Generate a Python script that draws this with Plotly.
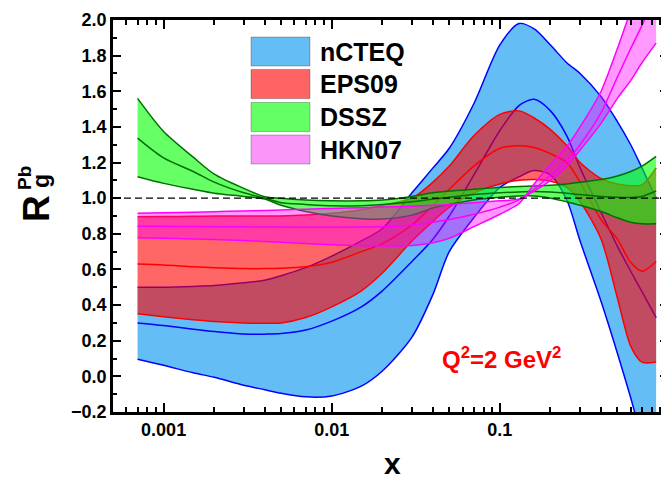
import plotly.graph_objects as go

# ---------------- data ----------------
X = [0.0007, 0.001, 0.0015, 0.002, 0.003, 0.004, 0.005, 0.007, 0.01, 0.015,
     0.02, 0.03, 0.04, 0.05, 0.07, 0.1, 0.13, 0.16, 0.2, 0.25,
     0.3, 0.4, 0.5, 0.6, 0.7, 0.85]

NCTEQ_HI = [0.50, 0.50, 0.505, 0.51, 0.525, 0.54, 0.565, 0.61, 0.675, 0.76,
            0.83, 1.03, 1.17, 1.28, 1.53, 1.86, 1.98, 1.95, 1.86, 1.76,
            1.70, 1.57, 1.43, 1.30, 1.17, 1.00]
NCTEQ_MID = [0.30, 0.285, 0.265, 0.252, 0.238, 0.237, 0.24, 0.26, 0.31, 0.39,
             0.48, 0.645, 0.77, 0.90, 1.13, 1.38, 1.52, 1.555, 1.49, 1.35,
             1.17, 0.92, 0.73, 0.59, 0.475, 0.33]
NCTEQ_LO = [0.096, 0.062, 0.02, -0.005, -0.05, -0.075, -0.095, -0.115, -0.11, -0.055,
            0.03, 0.22, 0.46, 0.70, 0.89, 1.06, 1.12, 1.155, 1.13, 0.99,
            0.76, 0.42, 0.13, -0.12, -0.35, -0.60]

EPS09_HI = [0.896, 0.897, 0.898, 0.90, 0.90, 0.90, 0.90, 0.905, 0.915, 0.935,
            0.96, 1.00, 1.09, 1.18, 1.35, 1.47, 1.49, 1.45, 1.385, 1.295,
            1.20, 1.11, 1.08, 1.07, 1.075, 1.17]
EPS09_MID = [0.63, 0.625, 0.615, 0.61, 0.605, 0.605, 0.607, 0.615, 0.64, 0.70,
             0.745, 0.85, 0.96, 1.05, 1.18, 1.28, 1.294, 1.285, 1.25, 1.20,
             1.09, 0.88, 0.77, 0.64, 0.59, 0.645]
EPS09_LO = [0.352, 0.335, 0.318, 0.308, 0.30, 0.298, 0.30, 0.33, 0.39, 0.48,
            0.58, 0.76, 0.87, 0.95, 1.03, 1.08, 1.10, 1.105, 1.095, 1.06,
            0.98, 0.77, 0.44, 0.17, 0.08, 0.08]

DSSZ_HI = [1.56, 1.374, 1.23, 1.135, 1.055, 1.008, 1.00, 0.99, 0.985, 0.985,
           0.99, 1.01, 1.03, 1.04, 1.05, 1.06, 1.065, 1.068, 1.072, 1.08,
           1.09, 1.105, 1.125, 1.15, 1.18, 1.235]
DSSZ_MID = [1.337, 1.226, 1.15, 1.09, 1.03, 1.0, 0.975, 0.965, 0.957, 0.958,
            0.965, 0.98, 0.995, 1.005, 1.02, 1.03, 1.035, 1.037, 1.035, 1.028,
            1.02, 1.01, 1.005, 1.004, 1.01, 1.04]
DSSZ_LO = [1.12, 1.083, 1.05, 1.028, 1.01, 0.995, 0.96, 0.925, 0.90, 0.885,
           0.883, 0.905, 0.945, 0.965, 0.99, 1.005, 1.012, 1.012, 1.0, 0.98,
           0.96, 0.925, 0.89, 0.865, 0.856, 0.856]

HKN07_A = [0.915, 0.918, 0.921, 0.924, 0.928, 0.931, 0.934, 0.938, 0.942, 0.947,
           0.95, 0.955, 0.96, 0.965, 0.975, 0.985, 0.995, 1.04, 1.10, 1.18,
           1.27, 1.42, 1.56, 1.66, 1.76, 1.87]
HKN07_MID = [0.843, 0.842, 0.841, 0.84, 0.839, 0.838, 0.838, 0.837, 0.837, 0.838,
             0.84, 0.85, 0.865, 0.88, 0.91, 0.95, 0.99, 1.05, 1.13, 1.21,
             1.30, 1.48, 1.68, 1.84, 1.97, 2.15]
HKN07_B = [0.778, 0.775, 0.771, 0.768, 0.762, 0.757, 0.752, 0.745, 0.738, 0.733,
           0.731, 0.735, 0.75, 0.775, 0.84, 0.91, 0.97, 1.08, 1.19, 1.29,
           1.40, 1.60, 1.84, 2.05, 2.20, 2.35]

MODELS = ["nCTEQ", "EPS09", "DSSZ", "HKN07"]
X_TICKS = [0.001, 0.01, 0.1, 1]
X_TICK_TEXT = ["0.001", "0.01", "0.1", "1"]
X_MINOR = [m * d for d in (0.0001, 0.001, 0.01, 0.1) for m in range(2, 10)]

# ---------------- styling ----------------
LINE_COL = {"nCTEQ": "#0000FF", "EPS09": "#FF0000", "DSSZ": "#007000", "HKN07": "#FF00FF"}
FILL_COL = {"nCTEQ": "rgb(100,190,245)", "EPS09": "rgba(255,0,0,0.6)",
            "DSSZ": "rgba(0,255,0,0.6)", "HKN07": "rgba(255,0,255,0.4)"}
LEG_COL = {"nCTEQ": "rgb(100,190,245)", "EPS09": "rgb(255,100,100)",
           "DSSZ": "rgb(100,255,100)", "HKN07": "rgb(250,150,250)"}
BANDS = {"nCTEQ": (NCTEQ_LO, NCTEQ_HI, NCTEQ_MID),
         "EPS09": (EPS09_LO, EPS09_HI, EPS09_MID),
         "DSSZ": (DSSZ_LO, DSSZ_HI, DSSZ_MID),
         "HKN07": (HKN07_A, HKN07_B, HKN07_MID)}

FONT = "Liberation Sans, Arial, sans-serif"

fig = go.Figure()
for name in MODELS:
    lo, hi, mid = BANDS[name]
    lc = LINE_COL[name]
    fig.add_trace(go.Scatter(x=X, y=lo, mode="lines", showlegend=False,
                             line=dict(color=lc, width=1.5, shape="spline", smoothing=0.8),
                             hoverinfo="skip"))
    fig.add_trace(go.Scatter(x=X, y=hi, mode="lines", showlegend=False, fill="tonexty",
                             fillcolor=FILL_COL[name],
                             line=dict(color=lc, width=1.5, shape="spline", smoothing=0.8),
                             hoverinfo="skip"))
    fig.add_trace(go.Scatter(x=X, y=mid, mode="lines", showlegend=False,
                             line=dict(color=lc, width=1.5, shape="spline", smoothing=0.8),
                             hoverinfo="skip"))

# dashed reference line at R = 1
fig.add_shape(type="line", xref="paper", yref="y", x0=0, x1=1, y0=1, y1=1,
              line=dict(color="black", width=1.2, dash="7px,4px"), layer="above")

# plot area in page pixels (page has an 8px body margin)
PW, PH, L, T = 555.0, 392.0, 113.0, 20.0
def xp(px):
    return (px - L) / PW
def yp(py):
    return (T + PH - py) / PH

rows = [(37, 66), (69.5, 98.5), (102.5, 131.5), (135, 164)]
for name, (y0, y1) in zip(MODELS, rows):
    fig.add_shape(type="rect", xref="paper", yref="paper",
                  x0=xp(251), x1=xp(310), y0=yp(y1), y1=yp(y0),
                  fillcolor=LEG_COL[name], line=dict(color="rgba(0,0,0,0.25)", width=1),
                  layer="above")
    fig.add_annotation(xref="paper", yref="paper", x=xp(318), y=yp((y0 + y1) / 2),
                       text=name, showarrow=False, xanchor="left", yanchor="middle",
                       font=dict(family=FONT, size=25, color="black", weight="bold"))

# Q^2 label
fig.add_annotation(xref="paper", yref="paper", x=xp(502), y=yp(358),
                   text="Q<sup>2</sup>=2 GeV<sup>2</sup>", showarrow=False,
                   xanchor="center", yanchor="middle",
                   font=dict(family=FONT, size=24, color="#FF0000", weight="bold"))

# axis titles
fig.add_annotation(xref="paper", yref="paper", x=xp(392), y=yp(463), text="x",
                   showarrow=False, xanchor="center", yanchor="middle",
                   font=dict(family=FONT, size=30, color="black", weight="bold"))
fig.add_annotation(xref="paper", yref="paper", x=xp(37), y=yp(209), text="R",
                   showarrow=False, xanchor="center", yanchor="middle", textangle=-90,
                   font=dict(family=FONT, size=37, color="black", weight="bold"))
fig.add_annotation(xref="paper", yref="paper", x=xp(41), y=yp(181), text="g",
                   showarrow=False, xanchor="center", yanchor="middle", textangle=-90,
                   font=dict(family=FONT, size=23, color="black", weight="bold"))
fig.add_annotation(xref="paper", yref="paper", x=xp(25), y=yp(178), text="Pb",
                   showarrow=False, xanchor="center", yanchor="middle", textangle=-90,
                   font=dict(family=FONT, size=19, color="black", weight="bold"))

tickfont = dict(family=FONT, size=18, color="black", weight="bold")
fig.update_xaxes(type="log", range=[-3.301, 0], tickmode="array",
                 tickvals=X_TICKS, ticktext=X_TICK_TEXT, automargin=False,
                 ticklabeloverflow="allow",
                 ticks="inside", ticklen=9, tickwidth=2, tickcolor="black",
                 showline=True, linewidth=2.5, linecolor="black", mirror="ticks",
                 showgrid=False, zeroline=False, tickfont=tickfont,
                 minor=dict(tickmode="array", tickvals=X_MINOR, ticks="inside",
                            ticklen=5, tickwidth=1.5, tickcolor="black", showgrid=False))
fig.update_yaxes(range=[-0.2, 2.0], tick0=0, dtick=0.2, tickformat=".1f",
                 automargin=False,
                 ticks="inside", ticklen=8, tickwidth=2, tickcolor="black",
                 showline=True, linewidth=2.5, linecolor="black", mirror="ticks",
                 showgrid=False, zeroline=False, tickfont=tickfont,
                 minor=dict(dtick=0.1, ticks="inside", ticklen=4, tickwidth=1.5,
                            tickcolor="black", showgrid=False))

# figure placed at page offset (8, 8): margins compensate so the plot area
# sits at page pixels x 113..668, y 20..412
fig.update_layout(width=661, height=475, autosize=False,
                  margin=dict(l=105, r=1, t=12, b=71),
                  plot_bgcolor="white", paper_bgcolor="white", showlegend=False)

fig.write_html("out.html")
